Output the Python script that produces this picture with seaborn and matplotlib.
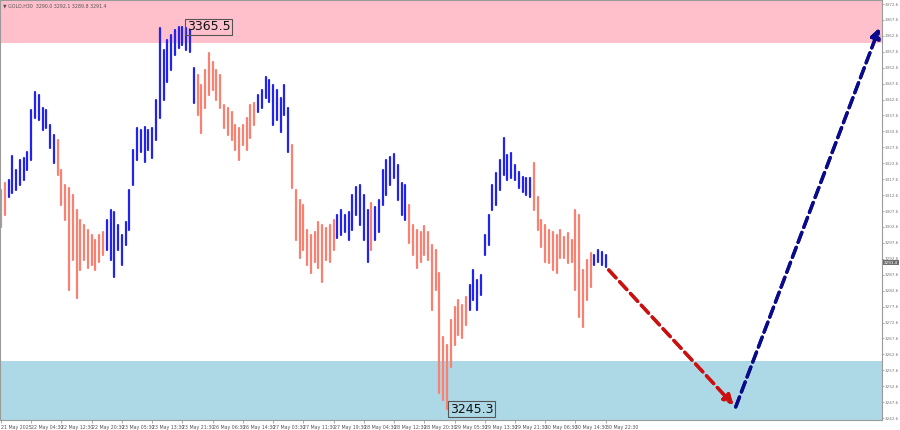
import matplotlib
matplotlib.use("Agg")
import matplotlib.pyplot as plt
import matplotlib.patheffects as pe
import numpy as np
import pandas as pd
import seaborn as sns

# GOLD H30 (one bar per hour)
highs = [
    3314.2, 3316.4, 3317.3, 3324.9, 3320.5, 3323.6, 3324.3, 3326.1, 3339.3, 3344.9,
    3344.0, 3340.0, 3339.3, 3334.6, 3331.5, 3329.9, 3320.5, 3315.8, 3314.8, 3312.6,
    3307.9, 3304.8, 3303.2, 3301.6, 3300.1, 3298.5, 3300.1, 3301.0, 3304.8, 3307.9,
    3307.3, 3303.2, 3300.1, 3304.1, 3314.2, 3326.8, 3333.7, 3333.0, 3334.0, 3333.0,
    3333.7, 3342.5, 3365.1, 3358.2, 3361.3, 3362.9, 3364.4, 3365.5, 3365.5, 3365.2,
    3364.4, 3352.5, 3350.3, 3347.2, 3351.9, 3357.2, 3354.4, 3351.9, 3350.3, 3340.9,
    3340.0, 3338.7, 3334.6, 3333.7, 3334.6, 3336.8, 3340.9, 3341.5, 3344.0, 3345.6,
    3349.7, 3348.7, 3347.2, 3345.6, 3343.1, 3347.2, 3340.0, 3328.3, 3314.2, 3311.1,
    3309.5, 3301.6, 3300.1, 3301.0, 3304.1, 3303.2, 3302.3, 3303.2, 3304.8, 3306.3,
    3307.9, 3306.3, 3307.3, 3312.6, 3315.1, 3315.8, 3312.6, 3307.9, 3310.1, 3308.8,
    3311.1, 3320.5, 3323.6, 3324.6, 3325.5, 3322.1, 3316.4, 3315.8, 3309.5, 3303.2,
    3301.6, 3301.0, 3302.9, 3301.0, 3296.9, 3295.4, 3288.1, 3268.0, 3265.5, 3273.4,
    3277.5, 3279.7, 3278.1, 3280.6, 3284.4, 3289.1, 3285.9, 3287.5, 3300.1, 3306.3,
    3315.8, 3319.5, 3323.6, 3330.5, 3325.2, 3325.8, 3322.1, 3319.9, 3318.3, 3318.0,
    3318.0, 3322.7, 3312.0, 3304.8, 3303.2, 3301.6, 3301.0, 3300.1, 3301.6, 3299.4,
    3300.7, 3298.5, 3307.9, 3306.3, 3289.1, 3292.2, 3294.4, 3293.8, 3295.4, 3294.7,
    3293.8,
]
lows = [
    3302.6, 3306.3, 3312.0, 3313.3, 3314.2, 3315.8, 3317.3, 3320.5, 3323.6, 3336.8,
    3336.2, 3333.0, 3333.7, 3327.4, 3322.7, 3318.9, 3309.5, 3304.8, 3282.8, 3292.2,
    3280.3, 3289.1, 3292.2, 3289.7, 3290.7, 3289.1, 3291.6, 3293.8, 3295.4, 3292.2,
    3286.9, 3295.4, 3290.7, 3296.9, 3301.6, 3315.8, 3323.6, 3326.1, 3323.0, 3326.8,
    3324.3, 3329.9, 3336.8, 3342.5, 3348.1, 3351.9, 3356.6, 3358.8, 3359.7, 3358.2,
    3357.5, 3341.5, 3337.8, 3332.1, 3340.0, 3344.0, 3345.6, 3342.5, 3340.0, 3333.7,
    3331.5, 3329.9, 3326.8, 3323.6, 3328.3, 3326.8, 3330.5, 3334.6, 3338.7, 3340.0,
    3343.1, 3341.8, 3334.6, 3336.2, 3332.4, 3337.8, 3326.1, 3314.8, 3298.5, 3292.9,
    3295.4, 3290.7, 3288.1, 3291.6, 3289.7, 3285.3, 3292.2, 3291.6, 3295.4, 3299.1,
    3300.1, 3301.0, 3298.5, 3301.6, 3306.3, 3303.2, 3298.5, 3291.6, 3295.4, 3298.5,
    3301.0, 3309.5, 3312.6, 3315.8, 3318.0, 3311.1, 3306.3, 3304.8, 3297.6, 3293.8,
    3289.7, 3291.6, 3293.8, 3292.2, 3276.5, 3282.8, 3250.5, 3248.3, 3245.3, 3258.6,
    3265.5, 3268.7, 3267.7, 3271.8, 3276.5, 3279.7, 3276.5, 3281.2, 3293.8, 3296.9,
    3307.9, 3309.5, 3314.2, 3318.9, 3317.3, 3318.0, 3317.3, 3314.8, 3313.6, 3312.6,
    3312.0, 3307.9, 3301.6, 3296.3, 3291.6, 3291.3, 3289.1, 3288.1, 3292.9, 3292.9,
    3291.3, 3291.6, 3282.8, 3274.3, 3271.2, 3279.7, 3283.7, 3290.7, 3291.6, 3290.7,
    3290.0,
]
# first bar of each wave segment and its direction
wave_starts = [0, 2, 15, 28, 52, 68, 77, 89, 98, 99, 108, 124, 141, 157]
wave_dirs = ["down", "up", "down", "up", "down", "up", "down", "up",
             "down", "up", "down", "up", "down", "up"]

date_labels = [
    "21 May 2025", "22 May 04:30", "22 May 12:30", "22 May 20:30", "23 May 05:30",
    "23 May 13:30", "23 May 21:30", "26 May 06:30", "26 May 14:30", "27 May 03:30",
    "27 May 11:30", "27 May 19:30", "28 May 04:30", "28 May 12:30", "28 May 20:30",
    "29 May 05:30", "29 May 13:30", "29 May 21:30", "30 May 06:30", "30 May 14:30",
    "30 May 22:30",
]
price_ticks = [3242.6 + 5 * k for k in range(27)]

resistance_zone = (3360.4, 3380.0)
support_zone = (3230.0, 3260.5)
peak_label = (49.2, 3365.5, "3365.5")
trough_label = (118.8, 3245.4, "3245.3")
last_price = 3291.4
header = "\u25bc GOLD,H30  3290.0 3292.1 3289.8 3291.4"

# forecast: down leg then up leg (bar index, price)
down_leg = [(160.8, 3289.1), (193.8, 3246.7)]
up_leg = [(194.4, 3246.1), (232.4, 3365.1)]

n = len(highs)
wave = []
for i in range(n):
    seg = max(j for j, s in enumerate(wave_starts) if s <= i)
    wave.append(wave_dirs[seg])

df = pd.DataFrame({
    "bar": list(range(n)) * 2,
    "price": lows + highs,
    "wave": wave * 2,
})

sns.set_style("white")
plt.rcParams["font.family"] = ["DejaVu Sans"]

fig = plt.figure(figsize=(9, 4.3), dpi=100)
ax = fig.add_axes([0.0, 10 / 430, 882 / 900, 420 / 430])

ax.axhspan(*resistance_zone, color="#FFC0CB", lw=0, zorder=0)
ax.axhspan(*support_zone, color="#ADD8E6", lw=0, zorder=0)

sns.lineplot(data=df, x="bar", y="price", units="bar", estimator=None,
             hue="wave", palette={"up": "#2323EE", "down": "#FA8072"},
             legend=False, lw=1.6, ax=ax, zorder=2)

for x, y, txt in [peak_label, trough_label]:
    ax.text(x, y, txt, fontsize=9, color="#111111", ha="left", va="center",
            zorder=5, bbox=dict(boxstyle="square,pad=0.12", fc="none",
                                ec="#555555", lw=0.8))

shadow = [pe.withSimplePatchShadow(offset=(1.5, -1.5), shadow_rgbFace="#777777", alpha=0.5),
          pe.Normal()]
for leg, col in [(down_leg, "#CC1010"), (up_leg, "#0A0A8C")]:
    (x0, y0), (x1, y1) = leg
    arr = ax.annotate("", xy=(x1, y1), xytext=(x0, y0), zorder=6,
                      arrowprops=dict(arrowstyle="-|>", color=col, lw=2.4,
                                      ls=(0, (3.2, 1.6)), mutation_scale=14,
                                      shrinkA=0, shrinkB=0))
    arr.arrow_patch.set_path_effects(shadow)

ax.set_xlim(-0.26, 233.1)
ax.set_ylim(3242.0, 3373.86)

ax.set_xticks(np.arange(len(date_labels)) * 8)
ax.set_xticklabels(date_labels, fontsize=3.4, color="#555555", ha="left")
ax.yaxis.tick_right()
ax.set_yticks(price_ticks)
ax.set_yticklabels([f"{v:.1f}" for v in price_ticks], fontsize=3.0, color="#777777")
ax.tick_params(axis="x", length=2, width=0.5, color="#888888", pad=1.5, bottom=True)
ax.tick_params(axis="y", length=1.2, width=0.5, color="#888888", pad=0.6,
               right=True, left=False)
ax.set_xlabel("")
ax.set_ylabel("")
for s in ax.spines.values():
    s.set_color("#9a9a9a")
    s.set_linewidth(0.8)

ax.text(1.002, (last_price - 3242.0) / (3373.86 - 3242.0), f"{last_price:.1f}",
        transform=ax.transAxes, fontsize=3.0, color="white", ha="left", va="center",
        bbox=dict(boxstyle="square,pad=0.2", fc="#6e6e6e", ec="none"), zorder=7)
ax.text(0.003, 0.992, header, transform=ax.transAxes, fontsize=3.4,
        color="#555555", ha="left", va="top")

fig.savefig("out.png", dpi=100)
